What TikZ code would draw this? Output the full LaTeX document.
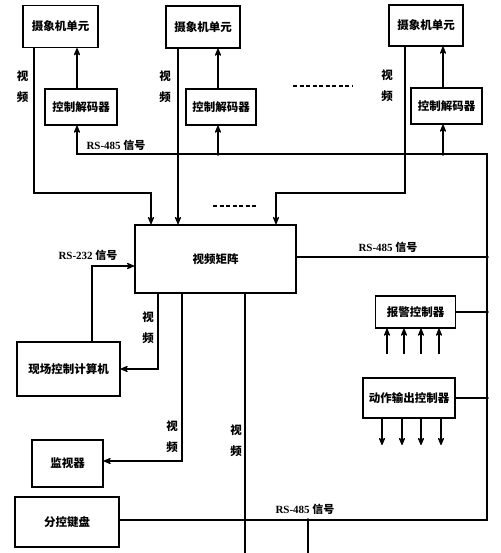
\documentclass[tikz,border=0pt]{standalone}
\usepackage{fontspec}
\setmainfont{Liberation Serif}
\newfontfamily\cjk{Noto Sans CJK SC}
\usetikzlibrary{arrows.meta, positioning}

\newcommand{\zh}[1]{{\cjk\bfseries #1}}

\tikzset{
  unit/.style={draw, line width=1.3pt, minimum width=#1, inner sep=0pt},
  vlabel/.style={align=center, font=\fontsize{11.5}{21}\selectfont\cjk\bfseries, inner sep=0pt},
  siglabel/.style={font=\fontsize{11}{13}\selectfont\bfseries, inner sep=0pt},
  dot/.style={circle, fill, inner sep=0pt, minimum size=3.8pt}
}

\begin{document}
\begin{tikzpicture}[x=1pt, y=-1pt, >={Stealth[round, length=9pt, width=7.5pt]}, line width=1.1pt,
    font=\fontsize{11.5}{13}\selectfont]
		\useasboundingbox (0,0) rectangle (500,553);

		% camera units and decoders
		\node (cam1) [unit=75pt, minimum height=42pt] at (60.5,26.5) {\zh{摄象机单元}};
		\node (cam2) [unit=74pt, minimum height=42pt] at (203,27) {\zh{摄象机单元}};
		\node (cam3) [unit=74pt, minimum height=41pt] at (426,25.5) {\zh{摄象机单元}};
		\node (dec1) [unit=72pt, minimum height=36pt] at (81,107) {\zh{控制解码器}};
		\node (dec2) [unit=70pt, minimum height=36pt] at (221,107) {\zh{控制解码器}};
		\node (dec3) [unit=71pt, minimum height=36pt] at (446.5,106) {\zh{控制解码器}};

		% matrix and peripherals
		\node (mat) [unit=161pt, minimum height=68pt, line width=1.8pt] at (215.5,259) {\zh{视频矩阵}};
		\node (alarm) [unit=80pt, minimum height=32pt] at (415.5,312) {\zh{报警控制器}};
		\node (act) [unit=92pt, minimum height=40pt] at (409,398) {\zh{动作输出控制器}};
		\node (pc) [unit=103pt, minimum height=54pt] at (68.5,369) {\zh{现场控制计算机}};
		\node (mon) [unit=71pt, minimum height=47pt] at (67.5,463.5) {\zh{监视器}};
		\node (kbd) [unit=104pt, minimum height=50pt] at (67,522) {\zh{分控键盘}};

		\coordinate (b1) at (487,154);
		\coordinate (b2) at (487,520);
		\coordinate (d2) at (218,154);
		\coordinate (d3) at (443,154);
		\coordinate (d4) at (308,520);

		% video lines to the matrix
		\draw [->] (cam1.south -| 34,0) -- (34,193) -| (mat.north -| 151,0);
		\draw [->] (cam2.south -| 178,0) -- (mat.north -| 178,0);
		\draw [->] (cam3.south -| 405,0) -- (405,193) -| (mat.north -| 276,0);

		% decoders to cameras
		\draw [->] (dec1.north -| 77,0) -- (cam1.south -| 77,0);
		\draw [->] (dec2.north -| 218,0) -- (cam2.south -| 218,0);
		\draw [->] (dec3.north -| 443,0) -- (cam3.south -| 443,0);

		% RS-485 bus
		\draw [<-] (dec1.south -| 77,0) |- (b1) -- (b2) -- (kbd.east |- b2);
		\draw [->] (d2) -- (dec2.south -| d2);
		\draw [->] (d3) -- (dec3.south -| d3);
		\draw (mat.east |- 0,257) -- (b1 |- 0,257) node [dot] {};
		\draw (alarm.east) -- (alarm.east -| b1) node [dot] {};
		\draw (act.east) -- (act.east -| b1) node [dot] {};
		\draw (d4) -- (308,553);
		\node [dot] at (d2) {};
		\node [dot] at (d3) {};
		\node [dot] at (d4) {};

		% matrix outputs
		\draw [->] (mat.south -| 158,0) |- (pc.east);
		\draw [->] (mat.south -| 182,0) |- (mon.east |- 0,461);
		\draw (mat.south -| 245,0) -- (245,553);
		\draw [->] (pc.north -| 92,0) |- (mat.west |- 0,266);

		% alarm inputs and action outputs
		\foreach \x in {387,404,421,439}
			\draw [->] (\x,354) -- (alarm.south -| \x,0);
		\foreach \x in {382,402,421,441}
			\draw [->] (act.south -| \x,0) -- (\x,445);

		% dashes between units
		\draw [dashed, dash pattern=on 4pt off 2.5pt] (293,86) -- (353,86);
		\draw [dashed, dash pattern=on 4pt off 2.5pt] (213,206) -- (256,206);

		% labels
		\node [vlabel] at (22.5,87) {视\\频};
		\node [vlabel] at (165,87) {视\\频};
		\node [vlabel] at (387,86) {视\\频};
		\node [vlabel] at (148,328) {视\\频};
		\node [vlabel] at (172,437) {视\\频};
		\node [vlabel] at (236,441) {视\\频};
		\node [siglabel] at (116,145) {RS-485 \zh{信号}};
		\node [siglabel] at (388,247) {RS-485 \zh{信号}};
		\node [siglabel] at (305,509) {RS-485 \zh{信号}};
		\node [siglabel] at (88,255) {RS-232 \zh{信号}};
	\end{tikzpicture}
\end{document}
